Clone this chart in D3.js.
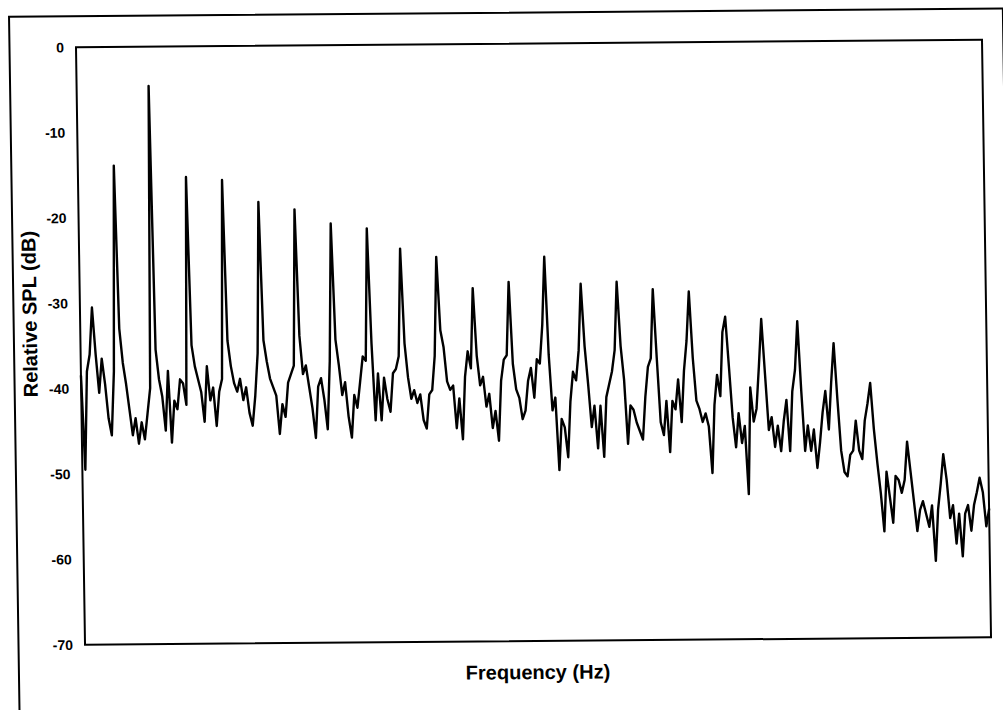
<!DOCTYPE html>
<html>
<head>
<meta charset="utf-8">
<script src="https://cdn.jsdelivr.net/npm/d3@7"></script>
<style>
  html, body { margin: 0; padding: 0; background: #ffffff; }
  svg { display: block; }
</style>
</head>
<body>
<svg id="chart" width="1003" height="710"></svg>
<script>
// ---- data ----
const xAxisTitle = "Frequency (Hz)";
const yAxisTitle = "Relative SPL (dB)";
const yDomain = [-70, 0];
const yTickValues = [0, -10, -20, -30, -40, -50, -60, -70];

// relative SPL in dB, one value per equally spaced frequency bin
const splDb = [
  -38.5, -49.5, -38, -36, -30.5, -36, -40.5, -36.5, -39.5, -43.5, -45.5, -38, -13.9,
  -33, -37, -39.5, -42.5, -45.5, -43.5, -46.5, -44, -46, -43, -40, -4.6,
  -35.5, -39, -41, -45, -38, -46.4, -41.5, -42.5, -39, -39.5, -42, -15.3,
  -35, -37.5, -39, -40.5, -44, -37.5, -41.5, -40, -44.5, -40.5, -39, -15.7,
  -34.5, -37.5, -39.5, -40.5, -39, -41.5, -40, -43, -44.5, -41, -36, -18.3,
  -34.5, -37, -39, -40, -41, -45.5, -42, -43.5, -39.5, -38.5, -37.5, -19.2,
  -34, -38.5, -37.5, -40, -42.5, -46, -40, -39, -41.5, -45, -37, -20.9,
  -34.5, -37.5, -41, -39.5, -43.5, -46, -41, -42.5, -39.5, -36.5, -37, -21.5,
  -35, -44, -38.5, -44, -39, -41.5, -43, -38.5, -38, -36.5, -23.9,
  -35, -39, -41.5, -40.5, -42, -41, -44, -45, -41, -40.5, -36.5, -24.9,
  -33.5, -35.5, -39.5, -40.5, -40, -45, -41.5, -46.3, -39, -36, -38, -28.6,
  -36.5, -40, -39, -42.5, -41, -45, -43, -46.5, -39.5, -37, -36.5, -27.9,
  -37.5, -40.5, -41.5, -44, -43, -39.5, -38, -41.5, -37, -37.5, -33, -25.0,
  -36.5, -43, -41.5, -50, -44, -45, -48.5, -42, -38.5, -39.5, -36, -28.2,
  -35.5, -40, -45, -42.5, -47.5, -42.5, -48.5, -41.5, -40, -38.5, -36, -28.0,
  -35.5, -39.5, -47, -42.5, -43, -44.5, -45.5, -46.5, -41.5, -38, -37, -28.9,
  -37, -44.5, -46, -42, -48, -42, -43, -39.5, -44.5, -38.5, -35, -29.2,
  -37, -42, -43, -44.5, -43.5, -45, -50.5, -42.5, -39, -41.5, -34, -32.2,
  -38, -44, -47.5, -43.5, -47, -45, -53, -40.5, -44.5, -43, -38, -32.5,
  -39, -45.5, -44, -47.5, -45, -48, -44.5, -42, -48, -41, -38.5, -32.8,
  -41, -48, -45, -48, -45.5, -50, -47, -43.5, -41, -45.5, -40, -35.4,
  -42, -48, -50.5, -51, -48.5, -48, -44.5, -48, -49, -44.5, -42.5, -40.1,
  -45.5, -49.5, -53, -57.5, -50.5, -53.5, -56.5, -51, -51.5, -53, -51.5, -47.0,
  -50.5, -54, -57.5, -55, -54, -55.5, -57, -54.5, -61, -55, -52, -48.5,
  -51.5, -56, -54.5, -59, -55.5, -60.5, -55.5, -54.5, -57.5, -54.5, -53, -51.3, -53, -57, -55
];

// ---- layout ----
const plot = { left: 80.5, right: 986.5, top: 43.5, bottom: 641 };
const FONT = "'Liberation Sans', Arial, Helvetica, sans-serif";

const svg = d3.select("#chart");
svg.append("rect").attr("width", 1003).attr("height", 710).attr("fill", "#ffffff");

// the scanned original sits slightly askew
const root = svg.append("g")
  .attr("transform", "matrix(1,-0.0083,0.0151,1,-5.164,4.424)");

// outer border of the figure
root.append("rect")
  .attr("x", 14).attr("y", 12.5)
  .attr("width", 993.8).attr("height", 800)
  .attr("fill", "none").attr("stroke", "#000").attr("stroke-width", 2);

const x = d3.scaleLinear()
  .domain([0, splDb.length - 1])
  .range([plot.left, plot.right]);

const y = d3.scaleLinear()
  .domain(yDomain)
  .range([plot.bottom, plot.top]);

// plot frame
root.append("rect")
  .attr("x", plot.left).attr("y", plot.top)
  .attr("width", plot.right - plot.left)
  .attr("height", plot.bottom - plot.top)
  .attr("fill", "none").attr("stroke", "#000").attr("stroke-width", 2);

// y axis (labels only)
const yAxis = d3.axisLeft(y)
  .tickValues(yTickValues)
  .tickSize(0)
  .tickPadding(12)
  .tickFormat(d => String(d));

const gy = root.append("g")
  .attr("transform", `translate(${plot.left},0)`)
  .call(yAxis);
gy.select(".domain").remove();
gy.selectAll("text")
  .attr("font-family", FONT)
  .attr("font-size", 14)
  .attr("font-weight", "bold")
  .attr("fill", "#000");

// spectrum line
const line = d3.line()
  .x((d, i) => x(i))
  .y(d => y(d));

root.append("path")
  .datum(splDb)
  .attr("d", line)
  .attr("fill", "none")
  .attr("stroke", "#000")
  .attr("stroke-width", 2.4)
  .attr("stroke-linejoin", "round")
  .attr("stroke-linecap", "round");

// axis titles
root.append("text")
  .attr("x", 533).attr("y", 679)
  .attr("text-anchor", "middle")
  .attr("font-family", FONT)
  .attr("font-size", 20)
  .attr("font-weight", "bold")
  .attr("fill", "#000")
  .text(xAxisTitle);

root.append("text")
  .attr("transform", "translate(37,310) rotate(-90)")
  .attr("text-anchor", "middle")
  .attr("font-family", FONT)
  .attr("font-size", 20)
  .attr("font-weight", "bold")
  .attr("fill", "#000")
  .text(yAxisTitle);
</script>
</body>
</html>
